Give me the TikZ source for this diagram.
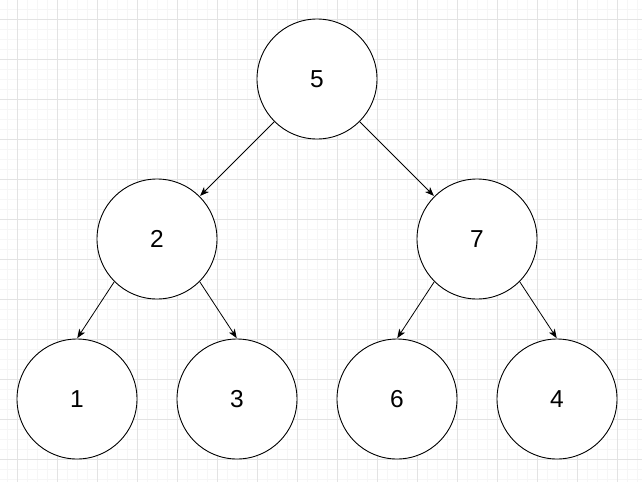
\documentclass[tikz,border=0pt]{standalone}
\usepackage{fontspec}
\setmainfont{Liberation Sans}
\usetikzlibrary{arrows.meta}
\definecolor{gridminor}{HTML}{F6F6F6}
\definecolor{gridmajor}{HTML}{E3E3E3}
\tikzset{
  treenode/.style={circle, draw=black, line width=0.9pt, fill=white, minimum size=120pt, inner sep=0pt, font=\fontsize{24.5}{28}\selectfont},
  edge/.style={draw=black, line width=0.8pt, -{Stealth[length=9pt,width=7pt,inset=2.5pt]}, shorten >=0.5pt}
}
\begin{document}
\begin{tikzpicture}[x=1pt,y=-1pt]
\useasboundingbox (0,0) rectangle (642,482);
\fill[white] (0,0) rectangle (642,482);
% minor grid
\foreach \x in {7,17,...,637} \draw[gridminor, line width=0.8pt] (\x,0) -- (\x,482);
\foreach \y in {9,19,...,479} \draw[gridminor, line width=0.8pt] (0,\y) -- (642,\y);
% major grid
\foreach \x in {17,57,...,617} \draw[gridmajor, line width=0.8pt] (\x,0) -- (\x,482);
\foreach \y in {19,59,...,459} \draw[gridmajor, line width=0.8pt] (0,\y) -- (642,\y);
% nodes
\node[treenode] (n5) at (317,79) {5};
\node[treenode] (n2) at (157,239) {2};
\node[treenode] (n7) at (477,239) {7};
\node[treenode] (n1) at (77,399) {1};
\node[treenode] (n3) at (237,399) {3};
\node[treenode] (n6) at (397,399) {6};
\node[treenode] (n4) at (557,399) {4};
% edges
\draw[edge] (n5) -- (n2);
\draw[edge] (n5) -- (n7);
\draw[edge] (n2.-135) -- (n1.north);
\draw[edge] (n2.-45) -- (n3.north);
\draw[edge] (n7.-135) -- (n6.north);
\draw[edge] (n7.-45) -- (n4.north);
\end{tikzpicture}
\end{document}
